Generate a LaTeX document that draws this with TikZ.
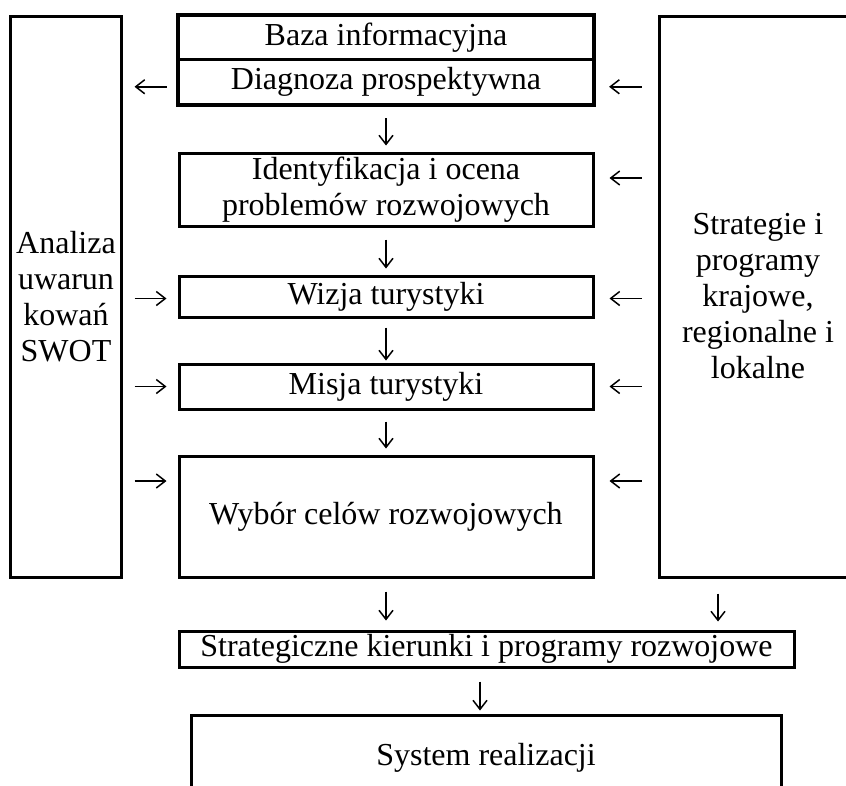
\documentclass[tikz,border=0pt]{standalone}
\usepackage{fontspec}
\setmainfont{Liberation Serif}
\usetikzlibrary{arrows.meta}
\begin{document}
\begin{tikzpicture}[x=1pt,y=-1pt,
  box/.style={draw, line width=3pt, rectangle, inner sep=0pt, align=center,
    font=\fontsize{32}{36}\selectfont},
  arr/.style={line width=1.5pt, -{Straight Barb[length=9pt,width=14pt]}}]
\useasboundingbox (0,0) rectangle (846,785);
\clip (0,0) rectangle (846,785);
% side boxes
\node[box, minimum width=111pt, minimum height=561pt] (L) at (66,296.5)
  {Analiza\\uwarun\\kowań\\SWOT};
\node[box, minimum width=198pt, minimum height=561pt] (R) at (758,296.5)
  {Strategie i\\programy\\krajowe,\\regionalne i\\lokalne};
% central column
\node[box, line width=2.2pt, minimum width=414pt, minimum height=43.5pt] (B) at (386,37.75) {Baza informacyjna};
\node[box, line width=2.2pt, minimum width=414pt, minimum height=44.5pt] (D) at (386,81.75) {Diagnoza prospektywna};
\draw[line width=3pt] (B.north west) rectangle (D.south east);
\node[box, minimum width=414pt, minimum height=73pt] (I) at (386,189.5)
  {Identyfikacja i ocena\\problemów rozwojowych};
\node[box, minimum width=414pt, minimum height=41pt] (W) at (386,296.5) {Wizja turystyki};
\node[box, minimum width=414pt, minimum height=45pt] (M) at (386,386.5) {Misja turystyki};
\node[box, minimum width=414pt, minimum height=121pt] (C) at (386,516.5) {Wybór celów rozwojowych};
\node[box, minimum width=615pt, minimum height=36pt] (S) at (486.5,649)
  {Strategiczne kierunki i programy rozwojowe};
\node[box, minimum width=590pt, minimum height=85pt] (Y) at (486,757.5) {System realizacji};
% vertical arrows
\draw[arr, shorten <=13pt, shorten >=6pt] (D.south) -- (I.north);
\draw[arr, shorten <=12pt, shorten >=6pt] (I.south) -- (W.north);
\draw[arr, shorten <=9pt, shorten >=2pt] (W.south) -- (M.north);
\draw[arr, shorten <=11pt, shorten >=6pt] (M.south) -- (C.north);
\draw[arr, shorten <=13pt, shorten >=9pt] (C.south) -- (S.north -| C.south);
\coordinate (rx) at (718,0);
\coordinate (sx) at (480,0);
\draw[arr, shorten <=15pt, shorten >=8pt] (R.south -| rx) -- (S.north -| rx);
\draw[arr, shorten <=13pt, shorten >=3pt] (S.south -| sx) -- (Y.north -| sx);
% horizontal arrows, left side
\draw[arr, shorten <=11pt, shorten >=11.5pt] ([yshift=-5pt]D.west) -- ([yshift=-5pt]D.west -| L.east);
\draw[arr, shorten <=11.5pt, shorten >=11pt] ([yshift=-2pt]W.west -| L.east) -- ([yshift=-2pt]W.west);
\draw[arr, shorten <=11.5pt, shorten >=11pt] (M.west -| L.east) -- (M.west);
\draw[arr, shorten <=11.5pt, shorten >=11pt] ([yshift=35.5pt]C.west -| L.east) -- ([yshift=35.5pt]C.west);
% horizontal arrows, right side
\draw[arr, shorten <=16pt, shorten >=15pt] ([yshift=-5pt]D.east -| R.west) -- ([yshift=-5pt]D.east);
\draw[arr, shorten <=16pt, shorten >=15pt] ([yshift=11.5pt]I.east -| R.west) -- ([yshift=11.5pt]I.east);
\draw[arr, shorten <=16pt, shorten >=15pt] ([yshift=-2pt]W.east -| R.west) -- ([yshift=-2pt]W.east);
\draw[arr, shorten <=16pt, shorten >=15pt] (M.east -| R.west) -- (M.east);
\draw[arr, shorten <=16pt, shorten >=15pt] ([yshift=35.5pt]C.east -| R.west) -- ([yshift=35.5pt]C.east);
\end{tikzpicture}
\end{document}
